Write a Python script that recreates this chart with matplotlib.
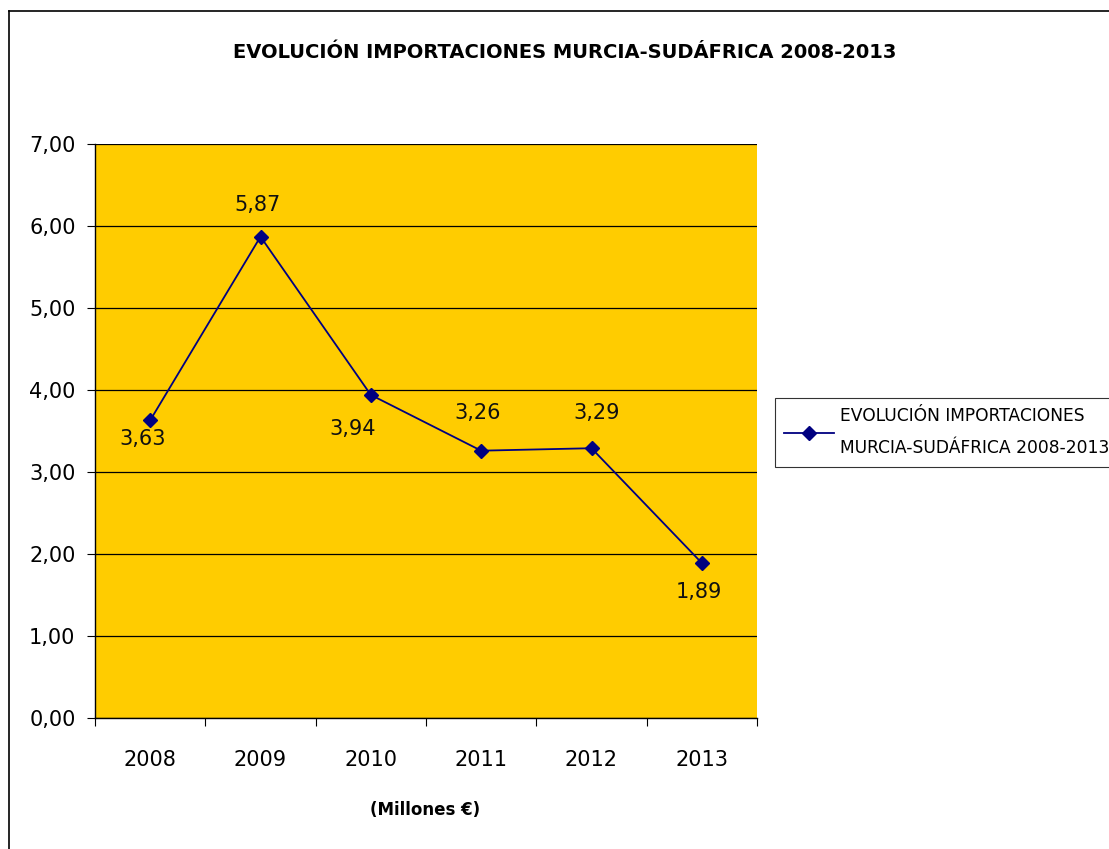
import matplotlib
matplotlib.use('Agg')
import matplotlib.pyplot as plt
from matplotlib.lines import Line2D

# Data
years = ['2008', '2009', '2010', '2011', '2012', '2013']
imports = [3.63, 5.87, 3.94, 3.26, 3.29, 1.89]
title = 'EVOLUCIÓN IMPORTACIONES MURCIA-SUDÁFRICA 2008-2013'
legend_label = 'EVOLUCIÓN IMPORTACIONES\nMURCIA-SUDÁFRICA 2008-2013'
units = '(Millones €)'

# value label offsets in points (dx, dy)
label_offsets = [(-5.4, -13.7), (-2.2, 23), (-13, -24.5),
                 (-2.2, 27.4), (3.6, 25.2), (-1.8, -20.9)]

plt.rcParams['font.family'] = ['DejaVu Sans']

fig = plt.figure(figsize=(11.09, 8.49), dpi=100)
ax = fig.add_axes([95 / 1109, 1 - 718 / 849, 662 / 1109, 574 / 849])
ax.set_facecolor('#FFCC00')

x = list(range(len(years)))
ax.plot(x, imports, color='#000080', marker='D', markersize=7, linewidth=1.3,
        label=legend_label, zorder=3)

for xi, v, (dx, dy) in zip(x, imports, label_offsets):
    ax.annotate(f'{v:.2f}'.replace('.', ','), (xi, v), xytext=(dx, dy),
                textcoords='offset points', ha='center', va='center',
                fontsize=15, color='#111111')

ax.set_xlim(-0.5, len(years) - 0.5)
ax.set_ylim(0, 7)
ax.set_yticks(range(0, 8))
ax.set_yticklabels([f'{v},00' for v in range(0, 8)], fontsize=15)
ax.yaxis.grid(True, color='black', linewidth=0.9)
ax.set_axisbelow(True)

# category boundaries carry the tick marks, labels sit at the centres
ax.set_xticks([i - 0.5 for i in range(len(years) + 1)])
ax.set_xticklabels([])
ax.set_xticks(x, minor=True)
ax.set_xticklabels(years, minor=True, fontsize=15)
ax.tick_params(axis='x', which='minor', length=0, pad=23)
ax.tick_params(axis='x', which='major', length=6, direction='out')
ax.tick_params(axis='y', length=6, direction='out', pad=8)

for side in ['top', 'right']:
    ax.spines[side].set_visible(False)
for side in ['left', 'bottom']:
    ax.spines[side].set_color('black')
    ax.spines[side].set_linewidth(1)

fig.text(565 / 1109, 1 - 52 / 849, title, ha='center', va='center',
         fontsize=14, fontweight='bold')
fig.text(425 / 1109, 1 - 810 / 849, units, ha='center', va='center',
         fontsize=12, fontweight='bold')

leg = ax.legend(loc='upper left', bbox_to_anchor=(775 / 1109, 1 - 398 / 849),
                bbox_transform=fig.transFigure, fontsize=12.3, frameon=True,
                fancybox=False, edgecolor='black', handlelength=2.9,
                handletextpad=0.35, borderpad=0.55, borderaxespad=0)
leg.get_frame().set_linewidth(0.8)
for t in leg.get_texts():
    t.set_linespacing(2.0)

# chart border
fig.add_artist(Line2D([9 / 1109, 9 / 1109], [0, 1 - 11 / 849],
                      transform=fig.transFigure, color='black', linewidth=1.2))
fig.add_artist(Line2D([9 / 1109, 1], [1 - 11 / 849, 1 - 11 / 849],
                      transform=fig.transFigure, color='black', linewidth=1.2))

fig.savefig('out.png', dpi=100)
